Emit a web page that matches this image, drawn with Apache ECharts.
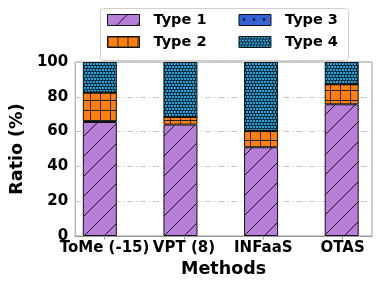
<!DOCTYPE html>
<html>
<head>
<meta charset="utf-8">
<script src="https://cdn.jsdelivr.net/npm/echarts@6/dist/echarts.min.js"></script>
<style>
html,body{margin:0;padding:0;background:#fff;}
#chart{width:382px;height:287px;}
</style>
</head>
<body>
<div id="chart"></div>
<script>
// ---- Data ----
var categories = ['ToMe (-15)', 'VPT (8)', 'INFaaS', 'OTAS'];
var type1 = [65.5, 64.0, 51.0, 75.7];
var type2 = [16.9, 4.4, 9.3, 11.5];
var type3 = [0, 0, 0, 0];
var type4 = [17.6, 31.6, 39.7, 12.8];
var yTicks = [0, 20, 40, 60, 80, 100];
var seriesNames = ['Type 1', 'Type 2', 'Type 3', 'Type 4'];

// ---- Patterns ----
function tile(w, h, draw) {
  var c = document.createElement('canvas');
  c.width = w; c.height = h;
  var ctx = c.getContext('2d');
  draw(ctx, w, h);
  return { image: c, repeat: 'repeat' };
}
var pat1 = tile(20, 20, function (ctx, w, h) {
  ctx.fillStyle = '#b77fd8'; ctx.fillRect(0, 0, w, h);
  ctx.strokeStyle = '#1a0a22'; ctx.lineWidth = 1;
  ctx.beginPath();
  ctx.moveTo(-2, h + 2); ctx.lineTo(w + 2, -2);
  ctx.moveTo(-2, 2); ctx.lineTo(2, -2);
  ctx.moveTo(w - 2, h + 2); ctx.lineTo(w + 2, h - 2);
  ctx.stroke();
});
var pat2 = tile(10, 10, function (ctx, w, h) {
  ctx.fillStyle = '#ff7f0e'; ctx.fillRect(0, 0, w, h);
  ctx.fillStyle = '#222';
  ctx.fillRect(0, 0, w, 1);
  ctx.fillRect(0, 0, 1, h);
});
var pat3 = tile(10, 10, function (ctx, w, h) {
  ctx.fillStyle = '#3563d6'; ctx.fillRect(0, 0, w, h);
  ctx.fillStyle = '#111';
  ctx.beginPath(); ctx.arc(5, 5, 1.3, 0, Math.PI * 2); ctx.fill();
});
var pat4 = tile(6, 6, function (ctx, w, h) {
  ctx.fillStyle = '#0c2f40'; ctx.fillRect(0, 0, w, h);
  ctx.fillStyle = '#22a3db';
  ctx.fillRect(1, 0, 2, 2); ctx.fillRect(4, 0, 2, 2);
  ctx.fillRect(0, 3, 2, 2); ctx.fillRect(3, 3, 2, 2);
});
var patterns = [pat1, pat2, pat3, pat4];
var values = [type1, type2, type3, type4];

var FONT = 'DejaVu Sans';

var series = seriesNames.map(function (name, k) {
  return {
    name: name,
    type: 'bar',
    stack: 'all',
    xAxisIndex: 0,
    yAxisIndex: 0,
    barWidth: 34,
    data: values[k],
    itemStyle: { color: patterns[k], borderColor: '#111', borderWidth: 1 },
    emphasis: { disabled: true },
    animation: false,
    z: 3
  };
});

var legendCommon = {
  icon: 'rect',
  itemWidth: 32,
  itemHeight: 11,
  itemGap: 32,
  padding: 0,
  left: 107,
  z: 10,
  textStyle: { fontFamily: FONT, fontWeight: 'bold', fontSize: 14.5, color: '#000', padding: [0, 0, 0, 9] },
  itemStyle: { borderColor: '#111', borderWidth: 1 }
};

var axisFontLabel = { fontFamily: FONT, fontWeight: 'bold', fontSize: 15, color: '#000' };
var nameFont = { fontFamily: FONT, fontWeight: 'bold', fontSize: 17.5, color: '#000' };

var chart = echarts.init(document.getElementById('chart'), null, { renderer: 'canvas' });
chart.setOption({
  animation: false,
  backgroundColor: '#fff',
  grid: [
    // bar grid: category bands centred on the methods
    { left: 59.5, width: 324, top: 62, bottom: 51, show: false },
    // visible axes frame
    { left: 70, right: 10, top: 62, bottom: 51, show: true, borderColor: '#999', borderWidth: 1, backgroundColor: 'transparent' }
  ],
  graphic: [{
    type: 'rect', z: 9,
    shape: { x: 100.5, y: 8.5, width: 248, height: 52, r: 3 },
    style: { fill: 'rgba(255,255,255,0.85)', stroke: '#d0d0d0', lineWidth: 1 }
  }],
  legend: [
    Object.assign({}, legendCommon, { top: 12.5, data: ['Type 1', 'Type 3'] }),
    Object.assign({}, legendCommon, { top: 34.5, data: ['Type 2', 'Type 4'] })
  ],
  xAxis: [
    {
      gridIndex: 0,
      type: 'category',
      data: categories,
      boundaryGap: true,
      axisLine: { show: false },
      axisTick: { show: false },
      axisLabel: { show: false },
      splitLine: { show: false }
    },
    {
      gridIndex: 1,
      type: 'value',
      min: -0.37,
      max: 3.37,
      name: 'Methods',
      nameLocation: 'middle',
      nameGap: 23,
      nameTextStyle: nameFont,
      axisLine: { show: true, lineStyle: { color: '#999', width: 1 } },
      axisTick: { show: true, length: 3.5, lineStyle: { color: '#999' }, customValues: [0, 1, 2, 3] },
      axisLabel: Object.assign({
        customValues: [0, 1, 2, 3],
        margin: 5,
        formatter: function (v) { return categories[Math.round(v)]; }
      }, axisFontLabel),
      splitLine: { show: false }
    }
  ],
  yAxis: [
    {
      gridIndex: 0,
      type: 'value',
      min: 0, max: 100,
      axisLine: { show: false },
      axisTick: { show: false },
      axisLabel: { show: false },
      splitLine: { show: false }
    },
    {
      gridIndex: 1,
      type: 'value',
      min: 0,
      max: 100,
      interval: 20,
      name: 'Ratio (%)',
      nameLocation: 'middle',
      nameGap: 44,
      nameTextStyle: nameFont,
      axisLine: { show: true, lineStyle: { color: '#999', width: 1 } },
      axisTick: { show: true, length: 3.5, lineStyle: { color: '#999' } },
      axisLabel: Object.assign({
        margin: 7,
        formatter: function (v) { return yTicks.indexOf(v) >= 0 ? String(v) : ''; }
      }, axisFontLabel),
      splitLine: { show: true, lineStyle: { color: '#c8c8c8', width: 1, type: [6, 3, 1, 3] } }
    }
  ],
  series: series
});
</script>
</body>
</html>
